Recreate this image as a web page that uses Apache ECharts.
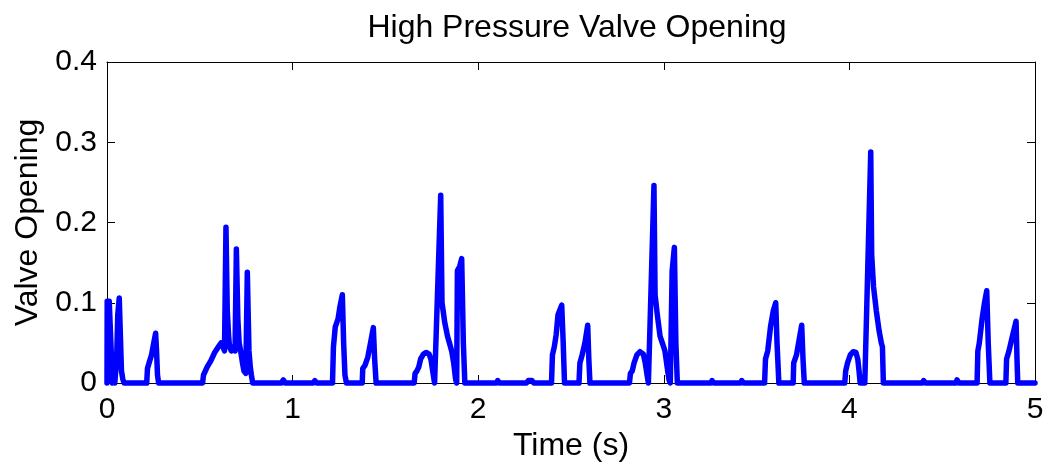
<!DOCTYPE html>
<html>
<head>
<meta charset="utf-8">
<title>High Pressure Valve Opening</title>
<script src="https://cdn.jsdelivr.net/npm/echarts@6/dist/echarts.min.js"></script>
<style>
  html, body { margin: 0; padding: 0; background: #fff; }
  #chart { width: 1051px; height: 473px; }
</style>
</head>
<body>
<div id="chart"></div>
<script>
// Sample times (s) and valve opening values of the high pressure valve trace
const timeSec = [
  0, 0.001, 0.012, 0.018, 0.026, 0.030, 0.035, 0.042, 0.052, 0.058, 0.066, 0.072, 0.078, 0.085, 0.092,
  0.214, 0.218, 0.228, 0.240, 0.252, 0.262, 0.267, 0.272, 0.278,
  0.515, 0.520, 0.530, 0.540, 0.560, 0.580, 0.600, 0.615, 0.625, 0.633, 0.641, 0.648, 0.655, 0.660, 0.670, 0.680, 0.690,
  0.697, 0.705, 0.712, 0.720, 0.730, 0.738, 0.748, 0.756, 0.765, 0.772, 0.778, 0.785,
  0.940, 0.950, 0.960, 1.110, 1.120, 1.130,
  1.215, 1.220, 1.230, 1.245, 1.255, 1.268, 1.275, 1.282, 1.290,
  1.375, 1.378, 1.390, 1.405, 1.420, 1.435, 1.442, 1.450,
  1.655, 1.660, 1.670, 1.680, 1.690, 1.705, 1.720, 1.735, 1.745, 1.755, 1.765,
  1.775, 1.798, 1.805, 1.820, 1.835, 1.845, 1.857, 1.868, 1.878, 1.884, 1.888, 1.900, 1.911, 1.920, 1.928,
  2.100, 2.105, 2.115, 2.260, 2.270, 2.280, 2.290, 2.300,
  2.395, 2.400, 2.410, 2.420, 2.430, 2.450, 2.458, 2.465,
  2.543, 2.548, 2.560, 2.575, 2.590, 2.596, 2.602,
  2.815, 2.820, 2.830, 2.840, 2.855, 2.872, 2.890, 2.900, 2.910, 2.917,
  2.926, 2.947, 2.953, 2.965, 2.980, 2.995, 3.006, 3.018, 3.028, 3.035, 3.045, 3.057, 3.065, 3.073,
  3.255, 3.260, 3.270, 3.415, 3.420, 3.430,
  3.543, 3.548, 3.560, 3.575, 3.590, 3.603, 3.610, 3.620,
  3.697, 3.700, 3.715, 3.730, 3.743, 3.750, 3.757,
  3.975, 3.980, 3.990, 4.005, 4.020, 4.035, 4.045, 4.052, 4.058,
  4.083, 4.115, 4.120, 4.130, 4.145, 4.160, 4.172, 4.178, 4.183,
  4.395, 4.400, 4.410, 4.575, 4.580, 4.590,
  4.688, 4.692, 4.700, 4.715, 4.728, 4.740, 4.748, 4.757,
  4.843, 4.847, 4.860, 4.875, 4.898, 4.903, 4.907,
  5.000
];
const valveOpening = [
  0, 0.102, 0.102, 0.100, 0.020, 0.000, 0.010, 0.000, 0.030, 0.085, 0.106, 0.060, 0.015, 0.005, 0,
  0, 0.018, 0.026, 0.035, 0.050, 0.062, 0.040, 0.010, 0,
  0, 0.010, 0.012, 0.020, 0.028, 0.038, 0.045, 0.050, 0.045, 0.040, 0.194, 0.090, 0.060, 0.045, 0.040, 0.045, 0.040,
  0.167, 0.080, 0.050, 0.040, 0.025, 0.015, 0.012, 0.138, 0.040, 0.020, 0.010, 0,
  0, 0.004, 0, 0, 0.003, 0,
  0, 0.045, 0.070, 0.080, 0.095, 0.110, 0.050, 0.010, 0,
  0, 0.018, 0.022, 0.032, 0.050, 0.069, 0.030, 0,
  0, 0.012, 0.015, 0.020, 0.030, 0.036, 0.038, 0.036, 0.030, 0.015, 0,
  0, 0.234, 0.100, 0.075, 0.058, 0.050, 0.040, 0.025, 0.005, 0, 0.140, 0.145, 0.155, 0.050, 0,
  0, 0.003, 0, 0, 0.003, 0.002, 0.003, 0,
  0, 0.035, 0.045, 0.060, 0.085, 0.097, 0.050, 0,
  0, 0.025, 0.035, 0.050, 0.072, 0.030, 0,
  0, 0.012, 0.015, 0.025, 0.035, 0.039, 0.036, 0.025, 0.010, 0,
  0, 0.246, 0.110, 0.085, 0.058, 0.048, 0.040, 0.020, 0.004, 0, 0.140, 0.169, 0.050, 0,
  0, 0.003, 0, 0, 0.003, 0,
  0, 0.030, 0.040, 0.070, 0.090, 0.100, 0.050, 0,
  0, 0.025, 0.035, 0.055, 0.072, 0.030, 0,
  0, 0.015, 0.025, 0.035, 0.039, 0.038, 0.030, 0.015, 0,
  0, 0.288, 0.160, 0.120, 0.090, 0.065, 0.050, 0.045, 0,
  0, 0.003, 0, 0, 0.004, 0,
  0, 0.040, 0.050, 0.080, 0.100, 0.115, 0.050, 0,
  0, 0.030, 0.040, 0.055, 0.077, 0.030, 0,
  0
];

// Axis ranges and tick spacing
const xTicks = [0, 1, 2, 3, 4, 5];
const yTicks = [0, 0.1, 0.2, 0.3, 0.4];

const FONT = '"Liberation Sans", Arial, Helvetica, sans-serif';
const points = timeSec.map((t, i) => [t, valveOpening[i]]);

const chart = echarts.init(document.getElementById('chart'), null, { renderer: 'canvas' });

const tickStyle = { show: true, inside: true, length: 8, lineStyle: { color: '#000', width: 1 } };
const lineStyle = { show: true, onZero: false, lineStyle: { color: '#000', width: 1 } };

chart.setOption({
  animation: false,
  backgroundColor: '#fff',
  title: {
    text: 'High Pressure Valve Opening',
    left: 572,
    textAlign: 'center',
    top: 7,
    textStyle: { fontFamily: FONT, fontSize: 32, fontWeight: 'normal', color: '#000' }
  },
  grid: { left: 107, right: 16, top: 62, bottom: 90, containLabel: false },
  xAxis: [
    {
      type: 'value',
      min: xTicks[0], max: xTicks[xTicks.length - 1], interval: 1,
      name: 'Time (s)', nameLocation: 'middle', nameGap: 47,
      nameTextStyle: { fontFamily: FONT, fontSize: 32, color: '#000' },
      axisLine: lineStyle, axisTick: tickStyle,
      axisLabel: { fontFamily: FONT, fontSize: 30, color: '#000', margin: 12 },
      splitLine: { show: false }
    },
    {
      type: 'value', position: 'top',
      min: xTicks[0], max: xTicks[xTicks.length - 1], interval: 1,
      axisLine: lineStyle, axisTick: tickStyle, axisLabel: { show: false }, splitLine: { show: false }
    }
  ],
  yAxis: [
    {
      type: 'value',
      min: yTicks[0], max: yTicks[yTicks.length - 1], interval: 0.1,
      name: 'Valve Opening', nameLocation: 'middle', nameGap: 62, nameRotate: 90,
      nameTextStyle: { fontFamily: FONT, fontSize: 32, color: '#000' },
      axisLine: lineStyle, axisTick: tickStyle,
      axisLabel: { fontFamily: FONT, fontSize: 30, color: '#000', margin: 10,
        formatter: v => (v === 0 ? '0' : v.toFixed(1)) },
      splitLine: { show: false }
    },
    {
      type: 'value', position: 'right',
      min: yTicks[0], max: yTicks[yTicks.length - 1], interval: 0.1,
      axisLine: lineStyle, axisTick: tickStyle, axisLabel: { show: false }, splitLine: { show: false }
    }
  ],
  series: [{
    type: 'line',
    data: points,
    showSymbol: false,
    clip: false,
    lineStyle: { color: '#0000ff', width: 5.5, cap: 'round', join: 'round' },
    z: 5
  }]
});
</script>
</body>
</html>
